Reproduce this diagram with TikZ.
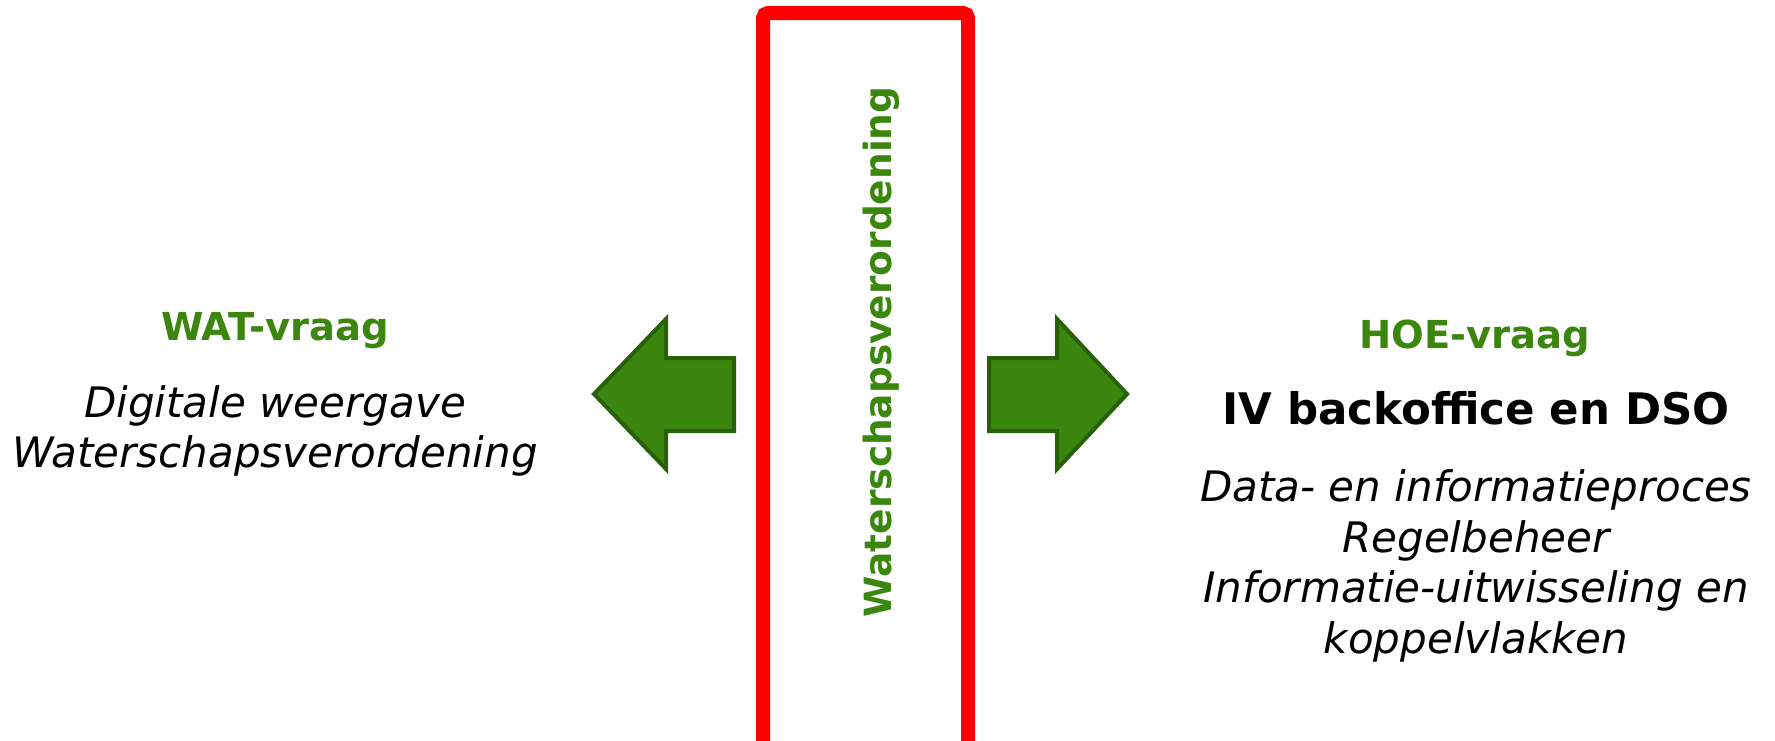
\documentclass[tikz,border=0pt]{standalone}
\usepackage{fontspec}
\setmainfont{DejaVu Sans}
\usetikzlibrary{calc}
\definecolor{wsgreen}{RGB}{58,134,14}
\definecolor{wsdark}{RGB}{40,96,8}
\definecolor{wsred}{RGB}{255,0,0}

\begin{document}
\begin{tikzpicture}[
    x=1pt, y=-1pt,
    every node/.append style = {inner sep=0pt},
    vraag/.style = {text=wsgreen, font=\fontsize{38.5}{44}\selectfont\bfseries},
    uitleg/.style = {align=center, font=\fontsize{42}{50.5}\selectfont\itshape},
    blok/.style = {fill=wsgreen, draw=wsdark, line width=4pt, line join=miter}
  ]
  \useasboundingbox (0,0) rectangle (1775,740);
  \begin{scope}
    \clip (0,0) rectangle (1775,740);
    \draw[wsred, line width=14pt, rounded corners=5pt]
      (763,13) rectangle (968,760);
  \end{scope}
  \node[rotate=90, text=wsgreen, font=\fontsize{37.5}{44}\selectfont\bfseries]
    (verordening) at (881,352) {Waterschapsverordening};
  \draw[blok] (734,358) -- (666,358) -- (666,319) -- (594,394)
    -- (666,469) -- (666,431) -- (734,431) -- cycle;
  \draw[blok] (989,358) -- (1057,358) -- (1057,319) -- (1127,394)
    -- (1057,469) -- (1057,431) -- (989,431) -- cycle;
  \node[vraag] (wat) at (275,331) {WAT-vraag};
  \node[uitleg] (watuitleg) at (275,431)
    {Digitale weergave\\Waterschapsverordening};
  \node[vraag] (hoe) at (1475,338) {HOE-vraag};
  \node[font=\fontsize{43.5}{50}\selectfont\bfseries] (iv) at (1476,408)
    {IV backoffice en DSO};
  \node[uitleg] (hoeuitleg) at (1476,566)
    {Data- en informatieproces\\Regelbeheer\\Informatie-uitwisseling en\\koppelvlakken};
\end{tikzpicture}
\end{document}
